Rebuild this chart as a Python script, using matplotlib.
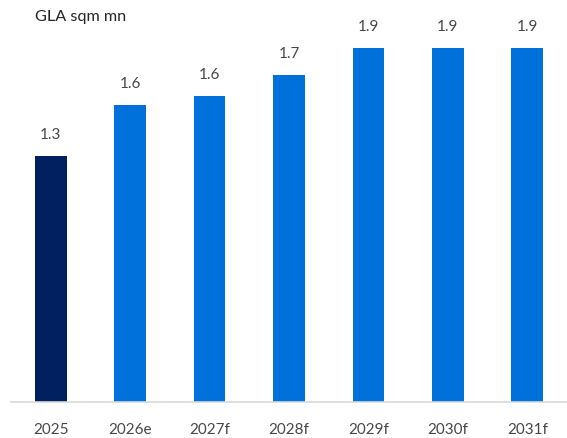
import matplotlib.pyplot as plt

years = ['2025', '2026e', '2027f', '2028f', '2029f', '2030f', '2031f']
gla = [1.30, 1.57, 1.62, 1.73, 1.87, 1.87, 1.87]
colors = ['#002060', '#0071DA', '#0071DA', '#0071DA', '#0071DA', '#0071DA', '#0071DA']

plt.rcParams['font.family'] = ['Lato', 'DejaVu Sans']

fig = plt.figure(figsize=(5.67, 4.38), dpi=100)
ax = fig.add_axes([11 / 567, 36 / 438, 556 / 567, 402 / 438])

x = range(len(years))
bars = ax.bar(x, gla, width=0.4, color=colors)

# value labels above each bar
for b, v in zip(bars, gla):
    ax.annotate(f'{v:.1f}', (b.get_x() + b.get_width() / 2, v),
                xytext=(0, 10), textcoords='offset points',
                ha='center', va='bottom', fontsize=11, color='#474747')

ax.set_xlim(-0.5, len(years) - 0.5)
ax.set_ylim(0, 2.125)
ax.set_xticks(list(x))
ax.set_xticklabels(years, fontsize=11, color='#474747')
ax.tick_params(axis='x', length=0, pad=15)
ax.set_yticks([])

for s in ['top', 'right', 'left']:
    ax.spines[s].set_visible(False)
ax.spines['bottom'].set_color('#d9d9d9')
ax.spines['bottom'].set_linewidth(1.2)

fig.text(35 / 567, 1 - 17 / 438, 'GLA sqm mn', fontsize=11.7, color='#262626',
         ha='left', va='center')

fig.savefig('out.png', dpi=100)
